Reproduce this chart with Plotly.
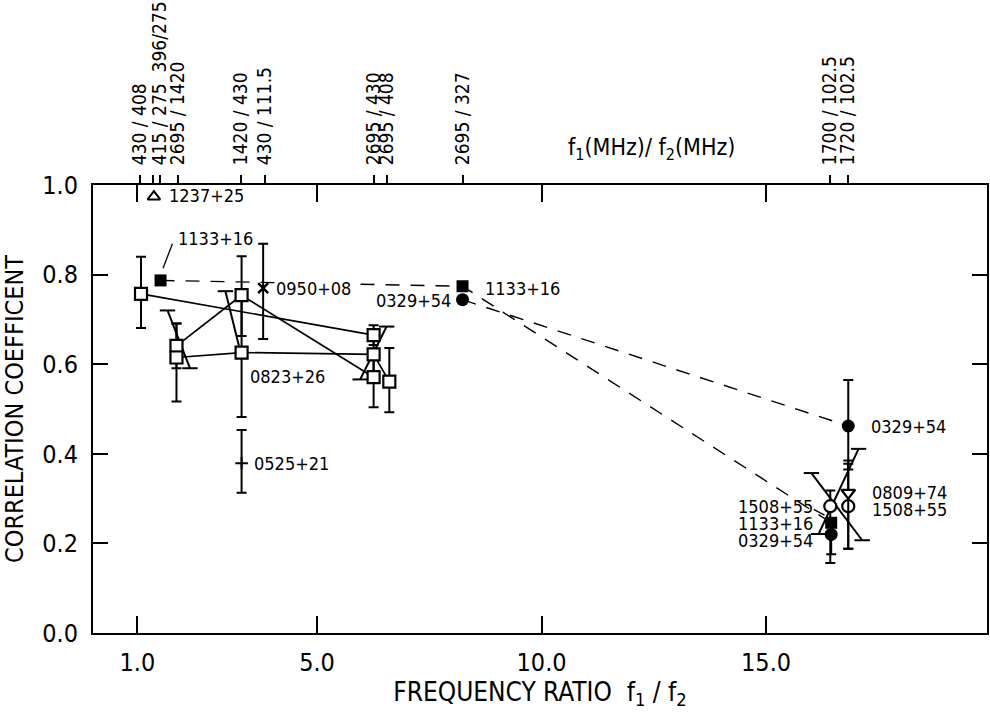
import plotly.graph_objects as go

# ---------------- data ----------------
# open squares joined by solid lines
sq_x = [1.08, 1.87, 1.87, 3.32, 3.32, 6.26, 6.26, 6.26, 6.61]
sq_y = [0.757, 0.641, 0.615, 0.754, 0.626, 0.665, 0.622, 0.571, 0.561]
sq_err_plus = [0.083, 0.050, 0.076, 0.087, 0.140, 0.022, 0.050, 0.050, 0.075]
sq_err_minus = [0.076, 0.050, 0.098, 0.091, 0.144, 0.022, 0.050, 0.067, 0.068]
solid_links = [[0, 5], [1, 3], [2, 4, 6], [3, 7], [6, 8]]

# slanted capped error segments
slant_x0 = [1.67, 2.96, 6.55, 16.01, 17.06]
slant_y0 = [0.720, 0.763, 0.684, 0.357, 0.411]
slant_x1 = [2.17, 3.26, 5.96, 17.14, 16.17]
slant_y1 = [0.591, 0.641, 0.566, 0.207, 0.221]
slant_cap1 = [True, False, True, True, True]

# 1133+16 filled squares (dashed)
s1133_x = [1.515, 8.24, 16.45]
s1133_y = [0.787, 0.774, 0.246]

# 0329+54 filled circles (dashed between first two)
s0329_x = [8.24, 16.83, 16.45]
s0329_y = [0.744, 0.462, 0.220]
s0329_err_plus = [0.0, 0.103, 0.030]
s0329_err_minus = [0.0, 0.097, 0.044]

# 0950+08 cross
s0950_x = [3.80]
s0950_y = [0.770]
s0950_err_plus = [0.099]
s0950_err_minus = [0.114]

# 0525+21 plus
s0525_x = [3.32]
s0525_y = [0.379]
s0525_err_plus = [0.074]
s0525_err_minus = [0.066]

# 1237+25 open triangle
s1237_x = [1.367]
s1237_y = [0.974]

# 1508+55 open circles
s1508_x = [16.43, 16.83]
s1508_y = [0.283, 0.283]
s1508_err_plus = [0.035, 0.095]
s1508_err_minus = [0.127, 0.095]

# 0809+74 open inverted triangle
s0809_x = [16.83]
s0809_y = [0.313]
s0809_err_plus = [0.072]
s0809_err_minus = [0.125]

# label leader lines
leader_x0 = [1.57, 16.06]
leader_y0 = [0.814, 0.276]
leader_x1 = [1.78, 16.30]
leader_y1 = [0.869, 0.263]

# source labels: text, x, y, anchor
label_text = ["1237+25", "1133+16", "0950+08", "0823+26", "0525+21", "0329+54",
              "1133+16", "0329+54", "0809+74", "1508+55", "1508+55", "1133+16", "0329+54"]
label_x = [1.678, 1.871, 4.056, 3.478, 3.567, 8.011, 8.722, 17.32, 17.34, 17.34, 16.06, 16.06, 16.06]
label_y = [0.976, 0.881, 0.770, 0.573, 0.378, 0.742, 0.770, 0.460, 0.313, 0.276, 0.283, 0.244, 0.206]
label_anchor = ["left", "left", "left", "left", "left", "right",
                "left", "left", "left", "left", "right", "right", "right"]
label_bg = [False, False, True, False, False, False, False, False, False, False, False, False, False]

# top axis: frequency pairs and their tick positions
ratio_text = ["430 / 408", "", "415 / 275  396/275", "2695 / 1420", "1420 / 430", "430 / 111.5",
              "2695 / 430", "2695 / 408", "2695 / 327", "1700 / 102.5", "1720 / 102.5"]
ratio_pos = [1.05, 1.35, 1.50, 1.90, 3.30, 3.84, 6.26, 6.56, 8.24, 16.43, 16.83]

# bottom / left axis ticks
x_ticks = [1, 5, 10, 15]
x_ticktext = ["1.0", "5.0", "10.0", "15.0"]
y_ticks = [0.0, 0.2, 0.4, 0.6, 0.8, 1.0]

FONT = "DejaVu Sans Condensed, Liberation Sans Narrow, DejaVu Sans, sans-serif"
BLACK = "black"

fig = go.Figure()

# solid lines between open squares
for link in solid_links:
    fig.add_trace(go.Scatter(x=[sq_x[i] for i in link], y=[sq_y[i] for i in link],
                             mode="lines", line=dict(color=BLACK, width=1.7),
                             hoverinfo="skip", showlegend=False))

# slanted bars with horizontal caps
for i in range(len(slant_x0)):
    fig.add_trace(go.Scatter(x=[slant_x0[i], slant_x1[i]], y=[slant_y0[i], slant_y1[i]],
                             mode="lines", line=dict(color=BLACK, width=2),
                             hoverinfo="skip", showlegend=False))
    cx = [slant_x0[i]] + ([slant_x1[i]] if slant_cap1[i] else [])
    cy = [slant_y0[i]] + ([slant_y1[i]] if slant_cap1[i] else [])
    fig.add_trace(go.Scatter(x=cx, y=cy, mode="markers",
                             marker=dict(symbol="line-ew", size=11, line=dict(color=BLACK, width=2)),
                             hoverinfo="skip", showlegend=False))

# leaders
for i in range(len(leader_x0)):
    fig.add_trace(go.Scatter(x=[leader_x0[i], leader_x1[i]], y=[leader_y0[i], leader_y1[i]],
                             mode="lines", line=dict(color=BLACK, width=1.3),
                             hoverinfo="skip", showlegend=False))

# dashed lines
DASH = "14px,11px"
fig.add_trace(go.Scatter(x=s1133_x, y=s1133_y, mode="lines",
                         line=dict(color=BLACK, width=1.4, dash=DASH),
                         hoverinfo="skip", showlegend=False))
fig.add_trace(go.Scatter(x=s0329_x[:2], y=s0329_y[:2], mode="lines",
                         line=dict(color=BLACK, width=1.4, dash=DASH),
                         hoverinfo="skip", showlegend=False))


def err(plus, minus):
    return dict(type="data", array=plus, arrayminus=minus, symmetric=False,
                width=5, thickness=2, color=BLACK)


# open squares
fig.add_trace(go.Scatter(x=sq_x, y=sq_y, mode="markers",
                         error_y=err(sq_err_plus, sq_err_minus),
                         marker=dict(symbol="square", size=12, color="white",
                                     line=dict(color=BLACK, width=2.2)),
                         showlegend=False))
# 0950+08
fig.add_trace(go.Scatter(x=s0950_x, y=s0950_y, mode="markers",
                         error_y=err(s0950_err_plus, s0950_err_minus),
                         marker=dict(symbol="x-thin", size=10, line=dict(color=BLACK, width=2.5)),
                         showlegend=False))
# 0525+21
fig.add_trace(go.Scatter(x=s0525_x, y=s0525_y, mode="markers",
                         error_y=err(s0525_err_plus, s0525_err_minus),
                         marker=dict(symbol="cross-thin", size=9, line=dict(color=BLACK, width=2)),
                         showlegend=False))
# 1237+25
fig.add_trace(go.Scatter(x=s1237_x, y=s1237_y, mode="markers",
                         marker=dict(symbol="triangle-up", size=11, color="white",
                                     line=dict(color=BLACK, width=2)),
                         showlegend=False))
# 1508+55
fig.add_trace(go.Scatter(x=s1508_x, y=s1508_y, mode="markers",
                         error_y=err(s1508_err_plus, s1508_err_minus),
                         marker=dict(symbol="circle", size=12, color="white",
                                     line=dict(color=BLACK, width=2.2)),
                         showlegend=False))
# 0809+74
fig.add_trace(go.Scatter(x=s0809_x, y=s0809_y, mode="markers",
                         error_y=err(s0809_err_plus, s0809_err_minus),
                         marker=dict(symbol="triangle-down", size=12, color="white",
                                     line=dict(color=BLACK, width=2.2)),
                         showlegend=False))
# 1133+16 filled squares
fig.add_trace(go.Scatter(x=s1133_x, y=s1133_y, mode="markers",
                         marker=dict(symbol="square", size=12, color=BLACK),
                         showlegend=False))
# 0329+54 filled circles
fig.add_trace(go.Scatter(x=s0329_x, y=s0329_y, mode="markers",
                         error_y=err(s0329_err_plus, s0329_err_minus),
                         marker=dict(symbol="circle", size=13, color=BLACK),
                         showlegend=False))

# invisible trace on the top frequency axis
fig.add_trace(go.Scatter(x=ratio_pos, y=[0.5] * len(ratio_pos), xaxis="x2", mode="markers",
                         marker=dict(opacity=0), hoverinfo="skip", showlegend=False))

# source labels
for t, x, y, a, bg in zip(label_text, label_x, label_y, label_anchor, label_bg):
    fig.add_annotation(x=x, y=y, text=t, showarrow=False, xanchor=a, yanchor="middle",
                       bgcolor="white" if bg else "rgba(0,0,0,0)", borderpad=0,
                       font=dict(size=18, family=FONT, color=BLACK))

fig.add_annotation(x=0.625, y=1.08, xref="paper", yref="paper", xanchor="center",
                   yanchor="middle",
                   text="f<sub>1</sub>(MHz)/ f<sub>2</sub>(MHz)", showarrow=False,
                   font=dict(size=23, family=FONT, color=BLACK))

XR = [0.011, 19.92]
fig.update_layout(
    width=990, height=713,
    margin=dict(l=93, r=1, t=181, b=80),
    paper_bgcolor="white", plot_bgcolor="white",
    font=dict(family=FONT, color=BLACK),
    xaxis=dict(range=XR, tickvals=x_ticks, ticktext=x_ticktext, ticks="inside", ticklen=17,
               tickwidth=2, tickcolor=BLACK, showline=True, linewidth=2, linecolor=BLACK,
               mirror="ticks", showgrid=False, zeroline=False,
               tickfont=dict(size=25, family=FONT), ticklabelstandoff=6,
               title=dict(text="FREQUENCY RATIO  f<sub>1</sub> / f<sub>2</sub>",
                          font=dict(size=26, family=FONT), standoff=6)),
    xaxis2=dict(range=XR, overlaying="x", side="top", anchor="y", tickvals=ratio_pos,
                ticktext=ratio_text, ticks="outside", ticklen=9, tickwidth=2, tickcolor=BLACK,
                tickangle=-90, tickfont=dict(size=19, family=FONT), showline=False,
                ticklabelstandoff=6, showgrid=False, zeroline=False),
    yaxis=dict(range=[0, 1], tickvals=y_ticks, tickformat=".1f", ticks="inside", ticklen=15,
               tickwidth=2, tickcolor=BLACK, showline=True, linewidth=2, linecolor=BLACK,
               mirror="ticks", showgrid=False, zeroline=False,
               tickfont=dict(size=25, family=FONT), ticklabelstandoff=8,
               title=dict(text="CORRELATION COEFFICENT", font=dict(size=25, family=FONT),
                          standoff=14)),
)

fig.write_html("out.html", config={"displayModeBar": False},
               post_script="document.body.style.margin='0px';")
